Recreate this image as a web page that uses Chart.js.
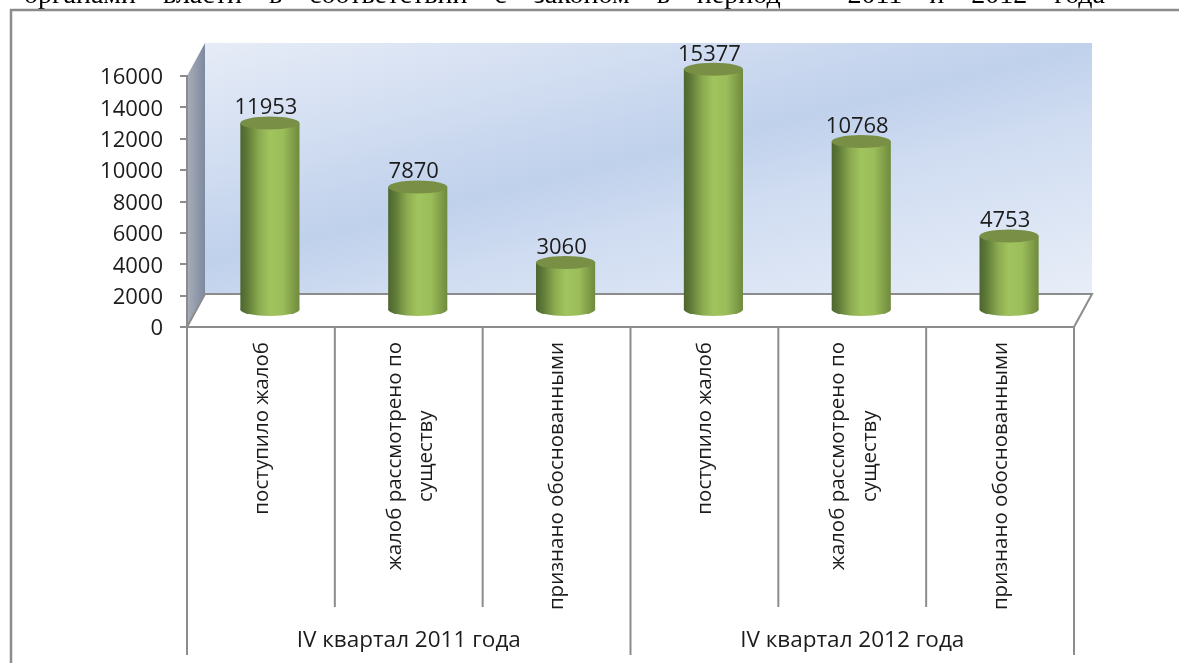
<!DOCTYPE html>
<html lang="ru">
<head>
<meta charset="utf-8">
<style>html,body{margin:0;padding:0;background:#fff}canvas{display:block}</style>
<script src="https://cdn.jsdelivr.net/npm/chart.js@4"></script>
</head>
<body>
<canvas id="c" width="1179" height="663"></canvas>
<script>
const categories = ['поступило жалоб', ['жалоб рассмотрено по', 'существу'], 'признано обоснованными',
                    'поступило жалоб', ['жалоб рассмотрено по', 'существу'], 'признано обоснованными'];
const groups = ['IV квартал 2011 года', 'IV квартал 2012 года'];
const values = [11953, 7870, 3060, 15377, 10768, 4753];
const axisMax = 16000;
const axisStep = 2000;
const headingStart = 'органами власти в соответствии с законом в период';
const headingEnd = '2011 и 2012 года';

const GREY = '#8c8c8c', INK = '#1c1c1c', FONT = '"Open Sans", sans-serif';
const DX = 18, DY = 33, RY = 6.5;
const CAT_FONT_SIZE = 20.5;
const INNER_GAP = 10; // inner dividers stop this far above the end of the category band

function cylGrad(c, l, r) {
  const g = c.createLinearGradient(l, 0, r, 0);
  g.addColorStop(0, '#4c6530');
  g.addColorStop(0.12, '#5f7b38');
  g.addColorStop(0.32, '#8cab50');
  g.addColorStop(0.5, '#a0c45e');
  g.addColorStop(0.72, '#9bbd5a');
  g.addColorStop(0.9, '#7f9c47');
  g.addColorStop(1, '#6f8a3e');
  return g;
}

const scene = {
  id: 'scene',
  beforeDraw(chart) {
    const c = chart.ctx, a = chart.chartArea;
    c.save();
    c.fillStyle = '#fff'; c.fillRect(0, 0, chart.width, chart.height);
    // clipped heading + page frame
    c.fillStyle = '#000';
    c.font = '28px "Liberation Serif", serif';
    c.textBaseline = 'alphabetic';
    c.wordSpacing = '20px';
    c.textAlign = 'left';
    c.fillText(headingStart, 24, 3);
    c.textAlign = 'right';
    c.fillText(headingEnd, 1105, 3);
    c.wordSpacing = '0px';
    c.strokeStyle = GREY; c.lineWidth = 2.5;
    c.beginPath(); c.moveTo(11, chart.height); c.lineTo(11, 10); c.lineTo(chart.width, 10); c.stroke();
    // back wall
    const wl = a.left + DX, wr = a.right + DX, wt = a.top - DY, wb = a.bottom - DY;
    const g = c.createLinearGradient(wl, wt, wl + 109, wt + 442);
    g.addColorStop(0, '#e6ecf7'); g.addColorStop(0.47, '#c0d1ec');
    g.addColorStop(0.62, '#cfdcf1'); g.addColorStop(1, '#e8eef8');
    c.fillStyle = g; c.fillRect(wl, wt, wr - wl, wb - wt);
    // side wall
    const s = c.createLinearGradient(a.left, 0, wl, 0);
    s.addColorStop(0, '#a9aeb8'); s.addColorStop(1, '#7d899f');
    c.fillStyle = s;
    c.beginPath(); c.moveTo(a.left, a.top); c.lineTo(wl, wt); c.lineTo(wl, wb); c.lineTo(a.left, a.bottom); c.closePath(); c.fill();
    // floor outline
    c.strokeStyle = GREY; c.lineWidth = 2;
    c.beginPath(); c.moveTo(a.left, a.bottom); c.lineTo(wl, wb); c.lineTo(wr, wb); c.lineTo(a.right, a.bottom); c.stroke();
    c.restore();
    // two-line category labels: centre the lines on each other and on the column
    const x = chart.scales.x;
    c.save();
    c.font = CAT_FONT_SIZE + 'px ' + FONT;
    x.getLabelItems().forEach(item => {
      if (item.options._adj) return;
      item.options._adj = true;
      if (Array.isArray(item.label)) {
        const widest = Math.max(...item.label.map(t => c.measureText(t).width));
        item.options.textAlign = 'center';
        item.options.translation[1] += widest / 2;
        item.options.translation[0] -= 14;
      } else {
        item.options.translation[0] += 1;
      }
    });
    c.restore();
  },
  beforeDatasetsDraw(chart) {
    const c = chart.ctx;
    c.save();
    c.translate(DX / 2, -DY / 2);
    chart.getDatasetMeta(0).data.forEach(b => {
      const w = b.width;
      c.fillStyle = cylGrad(c, b.x - w / 2, b.x + w / 2);
      c.beginPath(); c.ellipse(b.x, b.base, w / 2, RY, 0, 0, Math.PI * 2); c.fill();
    });
  },
  afterDatasetsDraw(chart) {
    const c = chart.ctx;
    chart.getDatasetMeta(0).data.forEach((b, i) => {
      c.fillStyle = '#788f45';
      c.beginPath(); c.ellipse(b.x, b.y, b.width / 2, RY, 0, 0, Math.PI * 2); c.fill();
      c.fillStyle = INK;
      c.font = '22px ' + FONT;
      c.textAlign = 'center'; c.textBaseline = 'middle';
      c.fillText(String(values[i]), b.x - 4, b.y - 15);
    });
    c.restore();
  },
  afterDraw(chart) {
    const c = chart.ctx, a = chart.chartArea, x = chart.scales.x, x2 = chart.scales.x2;
    const step = x.getPixelForValue(1) - x.getPixelForValue(0);
    c.save();
    c.strokeStyle = GREY; c.lineWidth = 2;
    for (let i = 0; i <= categories.length; i++) {
      const px = x.getPixelForValue(0) + (i - 0.5) * step;
      const isGroup = i % 3 === 0;
      c.beginPath(); c.moveTo(px, a.bottom); c.lineTo(px, isGroup ? x2.bottom : x.bottom - INNER_GAP); c.stroke();
    }
    c.restore();
  }
};

new Chart(document.getElementById('c'), {
  type: 'bar',
  plugins: [scene],
  data: {
    labels: categories,
    datasets: [{
      data: values,
      clip: false,
      barPercentage: 0.4,
      categoryPercentage: 1,
      borderWidth: 0,
      backgroundColor(ctx) {
        const x = ctx.chart.scales.x;
        if (!x || !Number.isInteger(ctx.dataIndex)) return '#a0c45e';
        const cx = x.getPixelForValue(ctx.dataIndex);
        const w = (x.getPixelForValue(1) - x.getPixelForValue(0)) * 0.4;
        if (!Number.isFinite(cx) || !Number.isFinite(w)) return '#a0c45e';
        return cylGrad(ctx.chart.ctx, cx - w / 2, cx + w / 2);
      }
    }]
  },
  options: {
    responsive: false,
    animation: false,
    layout: { padding: { left: 0, top: 76, right: 105, bottom: 8 } },
    plugins: { legend: { display: false }, tooltip: { enabled: false } },
    scales: {
      y: {
        min: 0, max: axisMax,
        afterFit(s) { s.width = 187; },
        ticks: { stepSize: axisStep, padding: 17, labelOffset: 2, color: INK,
                 font: { family: FONT, size: 22 }, callback: v => String(v) },
        grid: { drawOnChartArea: false, tickLength: 7, color: GREY, lineWidth: 2 },
        border: { color: GREY, width: 2 }
      },
      x: {
        weight: 0,
        afterFit(s) { s.height = 280 + INNER_GAP; },
        ticks: { minRotation: 90, maxRotation: 90, autoSkip: false, padding: 7, color: INK,
                 font: { family: FONT, size: CAT_FONT_SIZE, lineHeight: 1.55 } },
        grid: { display: false },
        border: { color: GREY, width: 2 }
      },
      x2: {
        type: 'category', position: 'bottom', weight: 1,
        labels: groups, offset: true,
        afterFit(s) { s.height = 48 - INNER_GAP; },
        ticks: { maxRotation: 0, minRotation: 0, padding: 2, color: INK, font: { family: FONT, size: 22.5 } },
        grid: { display: false },
        border: { display: false }
      }
    }
  }
});
</script>
</body>
</html>
